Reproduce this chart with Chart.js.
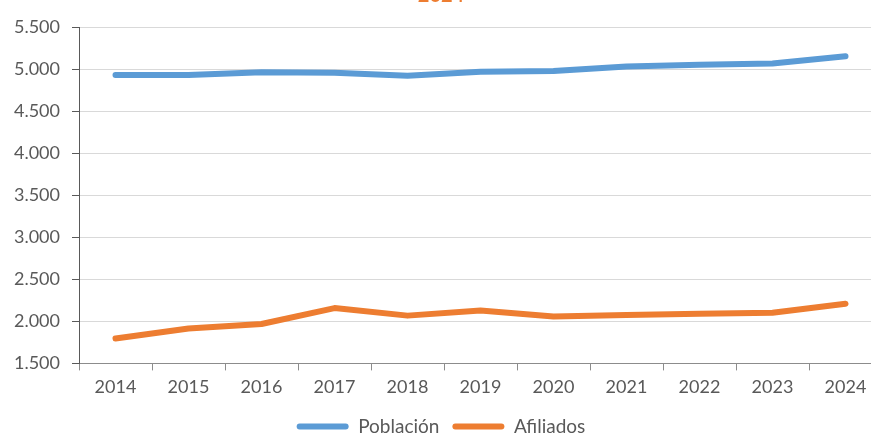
<!DOCTYPE html>
<html>
<head>
<meta charset="utf-8">
<script src="https://cdn.jsdelivr.net/npm/chart.js@4"></script>
<style>
  body { margin: 0; background: #fff; }
  #wrap { position: relative; width: 871px; height: 435px; overflow: hidden; }
  #myChart { position: absolute; left: 0; top: -20px; }
</style>
</head>
<body>
<div id="wrap"><canvas id="myChart" width="884" height="472"></canvas></div>
<script>
// data
const years = ['2014', '2015', '2016', '2017', '2018', '2019', '2020', '2021', '2022', '2023', '2024'];
const poblacion = [4928, 4928, 4962, 4955, 4920, 4968, 4976, 5030, 5052, 5065, 5152];
const afiliados = [1795, 1915, 1968, 2158, 2068, 2128, 2058, 2076, 2090, 2103, 2210];
const titleText = '2024';

const grey = '#595959';
const fontName = 'Lato, "Open Sans", sans-serif';

function thousands(v) {
    let s = String(Math.round(v));
    return s.replace(/\B(?=(\d{3})+(?!\d))/g, '.');
}

const ctx = document.getElementById('myChart');

new Chart(ctx, {
    type: 'line',
    data: {
        labels: years,
        datasets: [{
            label: 'Población',
            data: poblacion,
            borderColor: '#5B9BD5',
            backgroundColor: '#5B9BD5',
            borderWidth: 6,
            borderCapStyle: 'round',
            borderJoinStyle: 'round',
            pointRadius: 0,
            tension: 0
        }, {
            label: 'Afiliados',
            data: afiliados,
            borderColor: '#ED7D31',
            backgroundColor: '#ED7D31',
            borderWidth: 6,
            borderCapStyle: 'round',
            borderJoinStyle: 'round',
            pointRadius: 0,
            tension: 0
        }]
    },
    options: {
        responsive: false,
        animation: false,
        layout: { padding: { left: 0, right: 2, top: 0, bottom: 6 } },
        scales: {
            x: {
                offset: true,
                grid: {
                    offset: true,
                    drawOnChartArea: false,
                    drawTicks: true,
                    tickLength: 7,
                    color: '#8c8c8c'
                },
                border: { color: '#8c8c8c' },
                ticks: {
                    color: grey,
                    padding: 6,
                    font: { family: fontName, size: 18 }
                }
            },
            y: {
                min: 1500,
                max: 5500,
                afterFit: function(scale) { scale.width = 79; },
                grid: {
                    color: '#d9d9d9',
                    tickColor: '#595959',
                    tickLength: 7
                },
                border: { color: '#595959' },
                ticks: {
                    stepSize: 500,
                    color: grey,
                    padding: 12,
                    font: { family: fontName, size: 18 },
                    callback: function(value) { return thousands(value); }
                }
            }
        },
        plugins: {
            title: {
                display: true,
                text: titleText,
                color: '#ED7D31',
                font: { family: fontName, size: 20, weight: 'bold' },
                padding: { top: 4, bottom: 19 }
            },
            legend: {
                position: 'bottom',
                labels: {
                    boxWidth: 52,
                    boxHeight: 6,
                    useBorderRadius: true,
                    borderRadius: 3,
                    color: grey,
                    padding: 13,
                    font: { family: fontName, size: 19 },
                    generateLabels: function(chart) {
                        let items = Chart.defaults.plugins.legend.labels.generateLabels(chart);
                        items.forEach(function(it) { it.lineWidth = 0; });
                        return items;
                    }
                }
            },
            tooltip: { enabled: false }
        }
    }
});
</script>
</body>
</html>
